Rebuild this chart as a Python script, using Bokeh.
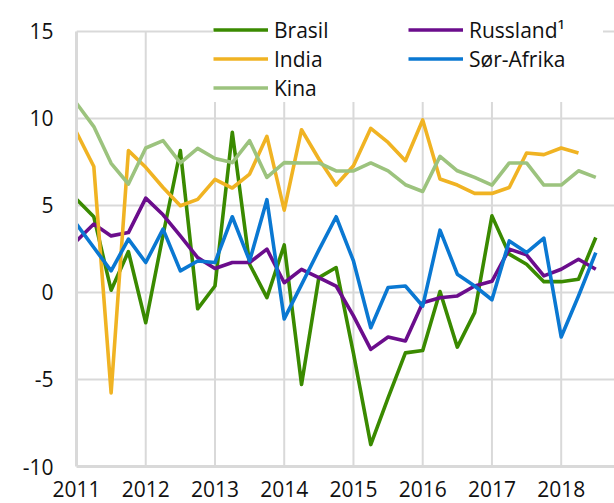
from bokeh.plotting import figure
from bokeh.models import Legend, LegendItem, FixedTicker, Range1d
from bokeh.embed import file_html
from bokeh.resources import INLINE

start_year = 2011
year_ticks = [2011, 2012, 2013, 2014, 2015, 2016, 2017, 2018]
y_ticks = [-10, -5, 0, 5, 10, 15]

brasil = [5.36, 4.35, 0.13, 2.35, -1.74, 3.3, 8.15, -0.94, 0.37, 9.2, 1.62, -0.3, 2.73, -5.29, 0.85, 1.43,
          -3.5, -8.74, -6.06, -3.47, -3.33, 0.05, -3.14, -1.16, 4.4, 2.2, 1.62, 0.62, 0.62, 0.76, 3.16]
russland = [2.96, 3.93, 3.25, 3.44, 5.42, 4.46, 3.25, 2.0, 1.38, 1.72, 1.72, 2.49, 0.56, 1.33, 0.85, 0.37,
            -1.35, -3.27, -2.56, -2.79, -0.59, -0.3, -0.2, 0.37, 0.64, 2.49, 2.16, 0.95, 1.33, 1.91, 1.33]
india = [9.2, 7.24, -5.77, 8.15, 7.19, 6.03, 4.98, 5.35, 6.5, 6.0, 6.8, 8.97, 4.73, 9.35, 7.67, 6.17,
         7.28, 9.43, 8.62, 7.57, 9.91, 6.52, 6.17, 5.69, 5.69, 6.03, 8.01, 7.92, 8.3, 8.01]
sor_afrika = [3.93, 2.58, 1.24, 3.06, 1.72, 3.64, 1.24, 1.81, 1.72, 4.35, 1.81, 5.33, -1.52, 0.45, 2.43, 4.35,
              1.81, -2.03, 0.28, 0.37, -0.78, 3.58, 1.05, 0.37, -0.42, 2.96, 2.29, 3.12, -2.56, -0.2, 2.29]
kina = [10.87, 9.53, 7.42, 6.23, 8.3, 8.72, 7.44, 8.28, 7.7, 7.46, 8.72, 6.61, 7.46, 7.44, 7.44, 6.98,
        6.98, 7.44, 6.99, 6.19, 5.8, 7.82, 6.99, 6.61, 6.17, 7.44, 7.44, 6.17, 6.17, 6.99, 6.61]

series = [
    ("Brasil", brasil, "#3a8a00"),
    ("India", india, "#f0b323"),
    ("Kina", kina, "#9cc37e"),
    ("Russland¹", russland, "#6b0d8c"),
    ("Sør-Afrika", sor_afrika, "#0a78d2"),
]
draw_order = ["Brasil", "Russland¹", "India", "Sør-Afrika", "Kina"]

FONT = "Open Sans"
GRID = "#d9d9d9"
y_lo, y_hi = min(y_ticks), max(y_ticks)

p = figure(width=614, height=503, output_backend="svg", toolbar_location=None,
           x_range=Range1d(2011, 2018.77), y_range=Range1d(-10, 16.2),
           min_border_left=76, min_border_right=0, min_border_top=10, min_border_bottom=37)
p.outline_line_color = None
p.background_fill_color = "white"

# vertical grid lines limited to the tick span
vg = p.segment(x0=year_ticks, y0=[y_lo] * len(year_ticks), x1=year_ticks, y1=[y_hi] * len(year_ticks),
               line_color=GRID, line_width=2)
vg.level = "underlay"
p.xgrid.visible = False
p.ygrid.ticker = FixedTicker(ticks=y_ticks)
p.ygrid.grid_line_color = GRID
p.ygrid.grid_line_width = 2

renderers = {}
lookup = {name: (vals, col) for name, vals, col in series}
for name in draw_order:
    vals, col = lookup[name]
    xs = [start_year + i / 4 for i in range(len(vals))]
    r = p.line(xs, vals, line_color=col, line_width=3.6, line_join="round")
    renderers[name] = r

p.xaxis.ticker = FixedTicker(ticks=year_ticks)
p.yaxis.ticker = FixedTicker(ticks=y_ticks)
p.yaxis.bounds = (y_lo, y_hi)
p.yaxis.major_label_overrides = {t: str(t) for t in y_ticks}
p.xaxis.major_label_overrides = {t: str(t) for t in year_ticks}

for ax in (p.xaxis, p.yaxis):
    ax.axis_line_color = GRID
    ax.axis_line_width = 3
    ax.major_tick_line_color = None
    ax.minor_tick_line_color = None
    ax.major_tick_out = 0
    ax.major_tick_in = 0
    ax.minor_tick_out = 0
    ax.major_label_text_font = FONT
    ax.major_label_text_font_size = "21px"
    ax.major_label_text_color = "#111111"
p.yaxis.major_label_standoff = 23
p.xaxis.major_label_standoff = 14

items = [LegendItem(label=name, renderers=[renderers[name]]) for name, _, _ in series]
legend = Legend(items=items, location=(137, 364), orientation="vertical", ncols=2,
                glyph_width=55, glyph_height=29, label_height=29, label_width=134,
                label_standoff=6, spacing=0, padding=2, margin=0,
                border_line_color=None, background_fill_color="white", background_fill_alpha=1.0,
                label_text_font=FONT, label_text_font_size="21px", label_text_color="#111111")
p.add_layout(legend, "center")

open("out.html", "w").write(file_html(p, INLINE))
